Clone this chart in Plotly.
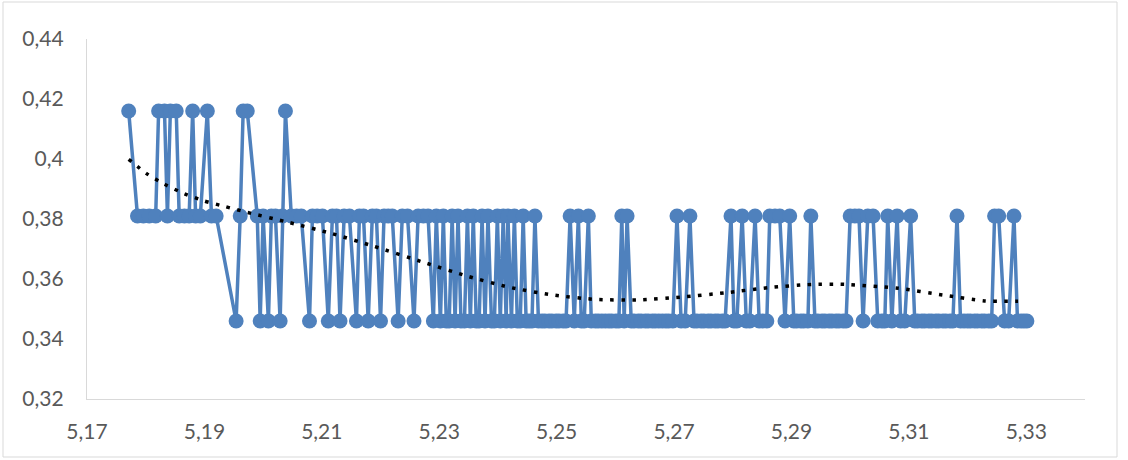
import plotly.graph_objects as go

# ---- data ----
x_vals = [
    5.1771, 5.1786, 5.1796, 5.1806, 5.1817, 5.1822, 5.1832, 5.1837, 5.1842, 5.1852,
    5.1857, 5.1866, 5.1874, 5.1880, 5.1885, 5.1893, 5.1905, 5.1912, 5.1920, 5.1954,
    5.1961, 5.1966, 5.1973, 5.1990, 5.1995, 5.2000, 5.2009, 5.2014, 5.2021, 5.2029,
    5.2033, 5.2038, 5.2048, 5.2057, 5.2065, 5.2079, 5.2084, 5.2092, 5.2101, 5.2111,
    5.2118, 5.2125, 5.2131, 5.2138, 5.2147, 5.2159, 5.2164, 5.2171, 5.2179, 5.2186,
    5.2193, 5.2200, 5.2206, 5.2213, 5.2220, 5.2230, 5.2237, 5.2246, 5.2257, 5.2264,
    5.2273, 5.2281, 5.2290, 5.2295, 5.2302, 5.2307, 5.2312, 5.2317, 5.2322, 5.2327,
    5.2332, 5.2337, 5.2343, 5.2348, 5.2353, 5.2358, 5.2363, 5.2368, 5.2373, 5.2378,
    5.2383, 5.2389, 5.2394, 5.2399, 5.2404, 5.2409, 5.2414, 5.2417, 5.2423, 5.2428,
    5.2433, 5.2438, 5.2443, 5.2448, 5.2453, 5.2458, 5.2463, 5.2469, 5.2475, 5.2480,
    5.2487, 5.2492, 5.2499, 5.2504, 5.2511, 5.2516, 5.2523, 5.2530, 5.2537, 5.2542,
    5.2547, 5.2554, 5.2559, 5.2566, 5.2571, 5.2577, 5.2583, 5.2589, 5.2594, 5.2601,
    5.2606, 5.2611, 5.2615, 5.2620, 5.2627, 5.2632, 5.2639, 5.2644, 5.2651, 5.2656,
    5.2663, 5.2668, 5.2674, 5.2680, 5.2686, 5.2691, 5.2698, 5.2705, 5.2712, 5.2719,
    5.2727, 5.2734, 5.2739, 5.2746, 5.2751, 5.2758, 5.2763, 5.2770, 5.2775, 5.2782,
    5.2787, 5.2797, 5.2802, 5.2807, 5.2816, 5.2823, 5.2829, 5.2838, 5.2845, 5.2851,
    5.2858, 5.2863, 5.2872, 5.2880, 5.2889, 5.2897, 5.2904, 5.2909, 5.2916, 5.2921,
    5.2928, 5.2933, 5.2940, 5.2945, 5.2952, 5.2957, 5.2964, 5.2969, 5.2976, 5.2981,
    5.2988, 5.2993, 5.3000, 5.3008, 5.3015, 5.3022, 5.3030, 5.3039, 5.3047, 5.3054,
    5.3059, 5.3064, 5.3071, 5.3080, 5.3086, 5.3093, 5.3103, 5.3110, 5.3115, 5.3122,
    5.3127, 5.3134, 5.3139, 5.3146, 5.3151, 5.3158, 5.3163, 5.3170, 5.3175, 5.3182,
    5.3188, 5.3194, 5.3200, 5.3205, 5.3212, 5.3217, 5.3224, 5.3229, 5.3236, 5.3241,
    5.3246, 5.3253, 5.3263, 5.3270, 5.3279, 5.3285, 5.3291, 5.3296, 5.3301,
]

y_vals = [
    0.416, 0.381, 0.381, 0.381, 0.381, 0.416, 0.416, 0.381, 0.416, 0.416,
    0.381, 0.381, 0.381, 0.416, 0.381, 0.381, 0.416, 0.381, 0.381, 0.346,
    0.381, 0.416, 0.416, 0.381, 0.346, 0.381, 0.346, 0.381, 0.381, 0.346,
    0.381, 0.416, 0.381, 0.381, 0.381, 0.346, 0.381, 0.381, 0.381, 0.346,
    0.381, 0.381, 0.346, 0.381, 0.381, 0.346, 0.381, 0.381, 0.346, 0.381,
    0.381, 0.346, 0.381, 0.381, 0.381, 0.346, 0.381, 0.381, 0.346, 0.381,
    0.381, 0.381, 0.346, 0.381, 0.346, 0.381, 0.346, 0.346, 0.381, 0.346,
    0.381, 0.346, 0.346, 0.381, 0.346, 0.381, 0.346, 0.346, 0.381, 0.346,
    0.381, 0.346, 0.346, 0.381, 0.346, 0.381, 0.346, 0.381, 0.346, 0.381,
    0.346, 0.346, 0.381, 0.346, 0.346, 0.346, 0.381, 0.346, 0.346, 0.346,
    0.346, 0.346, 0.346, 0.346, 0.346, 0.346, 0.381, 0.346, 0.381, 0.346,
    0.346, 0.381, 0.346, 0.346, 0.346, 0.346, 0.346, 0.346, 0.346, 0.346,
    0.346, 0.381, 0.346, 0.381, 0.346, 0.346, 0.346, 0.346, 0.346, 0.346,
    0.346, 0.346, 0.346, 0.346, 0.346, 0.346, 0.346, 0.381, 0.346, 0.346,
    0.381, 0.346, 0.346, 0.346, 0.346, 0.346, 0.346, 0.346, 0.346, 0.346,
    0.346, 0.381, 0.346, 0.346, 0.381, 0.346, 0.346, 0.381, 0.346, 0.346,
    0.346, 0.381, 0.381, 0.381, 0.346, 0.381, 0.346, 0.346, 0.346, 0.346,
    0.346, 0.381, 0.346, 0.346, 0.346, 0.346, 0.346, 0.346, 0.346, 0.346,
    0.346, 0.346, 0.381, 0.381, 0.381, 0.346, 0.381, 0.381, 0.346, 0.346,
    0.346, 0.381, 0.346, 0.381, 0.346, 0.346, 0.381, 0.346, 0.346, 0.346,
    0.346, 0.346, 0.346, 0.346, 0.346, 0.346, 0.346, 0.346, 0.346, 0.381,
    0.346, 0.346, 0.346, 0.346, 0.346, 0.346, 0.346, 0.346, 0.346, 0.346,
    0.381, 0.381, 0.346, 0.346, 0.381, 0.346, 0.346, 0.346, 0.346,
]

trend_x = [5.1771, 5.1801, 5.1832, 5.1866, 5.1900, 5.1936, 5.1973, 5.2043, 5.2116,
           5.2187, 5.2276, 5.2347, 5.2418, 5.2492, 5.2566, 5.2639, 5.2713, 5.2787,
           5.2860, 5.2935, 5.2991, 5.3082, 5.3157, 5.3229, 5.3286]
trend_y = [0.3999, 0.3952, 0.3916, 0.3884, 0.3860, 0.3841, 0.3822, 0.3789, 0.3752,
           0.3710, 0.3654, 0.3610, 0.3573, 0.3547, 0.3532, 0.3530, 0.3540, 0.3554,
           0.3571, 0.3582, 0.3582, 0.3569, 0.3547, 0.3527, 0.3526]

x_ticks = [5.17, 5.19, 5.21, 5.23, 5.25, 5.27, 5.29, 5.31, 5.33]
x_tick_text = ["5,17", "5,19", "5,21", "5,23", "5,25", "5,27", "5,29", "5,31", "5,33"]
y_ticks = [0.32, 0.34, 0.36, 0.38, 0.40, 0.42, 0.44]
y_tick_text = ["0,32", "0,34", "0,36", "0,38", "0,4", "0,42", "0,44"]

BLUE = "#4F81BD"
FONT = "Lato"

fig = go.Figure()
fig.add_trace(go.Scatter(
    x=x_vals, y=y_vals, mode="lines+markers",
    line=dict(color=BLUE, width=3.5),
    marker=dict(color=BLUE, size=15, line=dict(width=0)),
    cliponaxis=False, hoverinfo="skip",
))
fig.add_trace(go.Scatter(
    x=trend_x, y=trend_y, mode="lines",
    line=dict(color="black", width=3.5, dash="3.5px,7.5px", shape="spline", smoothing=0.6),
    cliponaxis=False, hoverinfo="skip",
))

L, R, T, B = 87, 43, 39, 61
W, H = 1128, 460
pw, ph = W - L - R, H - T - B

fig.update_layout(
    width=W, height=H,
    margin=dict(l=L, r=R, t=T, b=B, pad=0),
    paper_bgcolor="white", plot_bgcolor="white",
    showlegend=False,
    font=dict(family=FONT, size=21, color="#595959"),
    xaxis=dict(
        range=[5.17, 5.34], tickvals=x_ticks, ticktext=x_tick_text,
        showline=True, linecolor="#d9d9d9", linewidth=1.3, showgrid=False,
        zeroline=False, ticks="", ticklabelstandoff=14,
        tickfont=dict(family=FONT, size=21, color="#595959"),
    ),
    yaxis=dict(
        range=[0.32, 0.44], tickvals=y_ticks, ticktext=y_tick_text,
        showline=True, linecolor="#d9d9d9", linewidth=1.3, showgrid=False,
        zeroline=False, ticks="", ticklabelstandoff=18,
        tickfont=dict(family=FONT, size=21, color="#595959"),
    ),
    shapes=[dict(
        type="rect", xref="paper", yref="paper",
        x0=(3 - L) / pw, x1=(1117 - L) / pw,
        y0=(H - B - 457) / ph, y1=(H - B - 2) / ph,
        line=dict(color="#d9d9d9", width=1), fillcolor="rgba(0,0,0,0)", layer="below",
    )],
)

fig.write_html("out.html", config={"displayModeBar": False},
               post_script="document.body.style.margin='0';")
